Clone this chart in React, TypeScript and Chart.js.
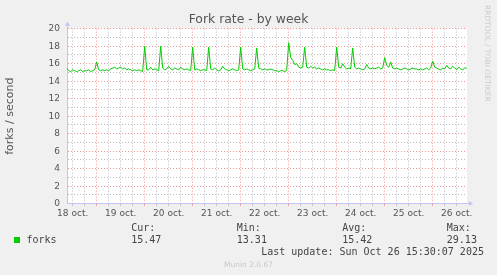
import React, { useEffect, useRef } from 'react';
import { Chart, registerables } from 'chart.js';

Chart.register(...registerables);

// hours counted from 18 oct 00:00
const FIRST_HOUR = 9;
const X_MIN = 9.15;
const X_MAX = 209.15;
const Y_MIN = 0;
const Y_MAX = 20;

const dayLabels = ['18 oct.', '19 oct.', '20 oct.', '21 oct.', '22 oct.', '23 oct.', '24 oct.', '25 oct.', '26 oct.'];

// hourly fork rate samples (forks / second)
const forks = [
  15.5, 15.2, 15.1, 15.3, 15.2, 15.1, 15.2, 15.3, 15.1, 15.2, 15.2, 15.3, 15.1, 15.2, 15.3,
  16.2,
  15.3, 15.2, 15.3, 15.2, 15.3, 15.2, 15.4,
  15.5, 15.6, 15.4, 15.5, 15.6, 15.4, 15.5, 15.3, 15.4,
  15.3, 15.2, 15.3, 15.2, 15.3, 15.2, 15.1,
  18.0,
  15.3, 15.3, 15.6, 15.3, 15.4, 15.3, 15.2,
  18.0,
  15.5, 15.3, 15.4, 15.7, 15.4, 15.3, 15.5, 15.4, 15.3, 15.6, 15.4, 15.3, 15.4, 15.3, 15.2,
  17.9,
  15.3, 15.4, 15.3, 15.2, 15.3, 15.3, 15.2,
  17.9,
  15.4, 15.3, 15.5, 15.3, 15.2, 15.3, 15.7, 15.4, 15.3, 15.2, 15.3, 15.4, 15.3, 15.2, 15.3,
  17.9,
  15.4, 15.3, 15.4, 15.3, 15.2, 15.3, 15.4,
  17.8,
  15.5, 15.4, 15.3, 15.4, 15.3, 15.3, 15.4, 15.3, 15.2, 15.2, 15.1, 15.2, 15.2, 15.1, 15.2,
  18.4,
  16.7, 16.4, 15.9, 16.0, 15.6, 15.5, 15.6,
  17.9,
  15.6, 15.5, 15.7, 15.5, 15.6, 15.4, 15.5, 15.4, 15.3, 15.4, 15.3, 15.3, 15.2, 15.3, 15.2,
  17.9,
  15.6, 15.5, 16.0, 15.6, 15.4, 15.5, 15.4,
  17.8,
  15.6, 15.4, 15.5, 15.4, 15.3, 15.4, 15.9, 15.5, 15.4, 15.5, 15.4, 15.5, 15.6, 15.4, 15.5,
  16.7,
  15.8, 15.6, 16.2,
  15.5, 15.4, 15.5, 15.4, 15.3, 15.4, 15.5, 15.4, 15.3, 15.4, 15.5, 15.4, 15.4, 15.3, 15.4, 15.3, 15.4, 15.5, 15.3, 15.5,
  16.3,
  15.6, 15.5, 15.4, 15.3, 15.5, 15.4, 15.8, 15.5, 15.4, 15.7, 15.5, 15.3, 15.6, 15.4, 15.3, 15.5, 15.5,
];

const seriesName = 'forks';
const statLabels = ['Cur:', 'Min:', 'Avg:', 'Max:'];
const statValues = ['15.47', '13.31', '15.42', '29.13'];
const lastUpdate = 'Last update: Sun Oct 26 15:30:07 2025';

const statX = [131.2, 236.8, 342.2, 446.8];

const GREEN = '#00CC00';
const MAJOR = 'rgba(240,130,130,0.85)';
const MINOR = 'rgba(180,180,180,0.9)';
const AXIS = '#C4C4F4';
const TEXT = '#555555';

export default function App() {
  const ref = useRef<HTMLCanvasElement>(null);

  useEffect(() => {
    if (!ref.current) return;
    const muninPlugin = {
      id: 'muninDecor',
      beforeDraw(chart: any) {
        const { ctx, chartArea: a } = chart;
        ctx.save();
        ctx.fillStyle = '#FFFFFF';
        ctx.fillRect(a.left, a.top, a.right - a.left, a.bottom - a.top);
        ctx.restore();
      },
      afterDraw(chart: any) {
        const { ctx, chartArea: a } = chart;
        ctx.save();
        ctx.strokeStyle = AXIS;
        ctx.lineWidth = 1;
        ctx.beginPath();
        ctx.moveTo(Math.round(a.left) + 0.5, a.top);
        ctx.lineTo(Math.round(a.left) + 0.5, a.top - 3);
        ctx.moveTo(a.right, Math.round(a.bottom) - 0.5);
        ctx.lineTo(a.right + 2, Math.round(a.bottom) - 0.5);
        ctx.stroke();
        ctx.fillStyle = '#C0C0FF';
        const lx = Math.round(a.left) + 0.5;
        ctx.beginPath();
        ctx.moveTo(lx, a.top - 7);
        ctx.lineTo(lx - 2.5, a.top - 3);
        ctx.lineTo(lx + 2.5, a.top - 3);
        ctx.closePath();
        ctx.fill();
        const by = Math.round(a.bottom) - 0.5;
        ctx.beginPath();
        ctx.moveTo(a.right + 6, by);
        ctx.lineTo(a.right + 2, by - 2.5);
        ctx.lineTo(a.right + 2, by + 2.5);
        ctx.closePath();
        ctx.fill();
        ctx.restore();
      },
    };

    const chart = new Chart(ref.current, {
      type: 'line',
      data: {
        datasets: [
          {
            label: seriesName,
            data: forks.map((v, i) => ({ x: FIRST_HOUR + i, y: v })),
            borderColor: GREEN,
            backgroundColor: GREEN,
            borderWidth: 1,
            pointRadius: 0,
            tension: 0,
            yAxisID: 'y',
          },
        ],
      },
      options: {
        animation: false,
        responsive: false,
        devicePixelRatio: 1,
        layout: { padding: 0 },
        plugins: {
          legend: { display: false },
          tooltip: { enabled: false },
          title: {
            display: true,
            text: 'Fork rate - by week',
            color: TEXT,
            font: { family: 'DejaVu Sans', size: 12.4, weight: 'normal' },
            padding: { top: 12.3, bottom: 1.5 },
          },
        },
        scales: {
          x: {
            type: 'linear',
            min: X_MIN,
            max: X_MAX,
            afterBuildTicks: (s: any) => {
              const t: any[] = [];
              for (let v = Math.ceil(X_MIN / 6) * 6; v <= X_MAX; v += 6) t.push({ value: v });
              s.ticks = t;
            },
            afterFit: (s: any) => {
              s.height = 71.3;
            },
            ticks: {
              autoSkip: false,
              maxRotation: 0,
              padding: 3,
              color: TEXT,
              font: { family: 'DejaVu Sans', size: 9 },
              callback: (v: any) => {
                const n = Number(v);
                return n % 24 === 12 ? dayLabels[(n - 12) / 24] : '';
              },
            },
            grid: {
              color: (c: any) => (c.tick && c.tick.value % 24 === 0 ? MAJOR : MINOR),
              tickLength: 2,
              lineWidth: 1,
            },
            border: { display: true, color: AXIS, dash: [1, 2] },
          },
          y: {
            type: 'linear',
            position: 'left',
            min: Y_MIN,
            max: Y_MAX,
            afterFit: (s: any) => {
              s.width = 67;
            },
            ticks: {
              stepSize: 1,
              autoSkip: false,
              padding: 7,
              color: TEXT,
              font: { family: 'DejaVu Sans', size: 9 },
              callback: (v: any) => (Number(v) % 2 === 0 ? String(v) : ''),
            },
            grid: {
              color: (c: any) => (c.tick && c.tick.value % 2 === 0 ? MAJOR : MINOR),
              drawTicks: false,
              lineWidth: 1,
            },
            border: { display: true, color: AXIS, dash: [1, 2] },
            title: {
              display: true,
              text: 'forks / second',
              color: TEXT,
              font: { family: 'DejaVu Sans', size: 11 },
              padding: { top: 4, bottom: 0 },
            },
          },
          yR: {
            type: 'linear',
            position: 'right',
            display: true,
            grid: { display: false },
            ticks: { display: false },
            border: { display: false },
            afterFit: (s: any) => {
              s.width = 30;
            },
          },
        },
      },
      plugins: [muninPlugin],
    } as any);
    return () => chart.destroy();
  }, []);

  const mono: React.CSSProperties = {
    position: 'absolute',
    fontFamily: 'DejaVu Sans Mono',
    fontSize: 10,
    lineHeight: '12px',
    color: '#444',
    whiteSpace: 'pre',
  };

  return (
    <div style={{ position: 'fixed', left: 0, top: 0, width: 497, height: 275, background: '#F0F0F0', overflow: 'hidden' }}>
      <canvas ref={ref} width={497} height={275} style={{ position: 'absolute', left: 0, top: 0, width: 497, height: 275 }} />
      <div
        style={{
          position: 'absolute',
          left: 491.9,
          top: 5,
          transform: 'rotate(90deg)',
          transformOrigin: '0 0',
          fontFamily: 'DejaVu Sans',
          fontSize: 7.5,
          lineHeight: '9px',
          color: '#CCCCCC',
          whiteSpace: 'pre',
        }}
      >
        RRDTOOL / TOBI OETIKER
      </div>
      <div style={{ position: 'absolute', left: 14, top: 237, width: 6, height: 6, background: GREEN }} />
      <div style={{ ...mono, left: 26.5, top: 234.2 }}>{seriesName}</div>
      {statLabels.map((l, i) => (
        <div key={'l' + i} style={{ ...mono, left: statX[i], top: 221.9 }}>{l}</div>
      ))}
      {statValues.map((v, i) => (
        <div key={'v' + i} style={{ ...mono, left: statX[i], top: 234.2 }}>{v}</div>
      ))}
      <div style={{ ...mono, left: 261.2, top: 245.9 }}>{lastUpdate}</div>
      <div
        style={{
          position: 'absolute',
          left: 0,
          width: 497,
          top: 259.6,
          textAlign: 'center',
          fontFamily: 'DejaVu Sans',
          fontSize: 7.5,
          lineHeight: '9px',
          color: '#C8C8C8',
        }}
      >
        Munin 2.0.67
      </div>
    </div>
  );
}
